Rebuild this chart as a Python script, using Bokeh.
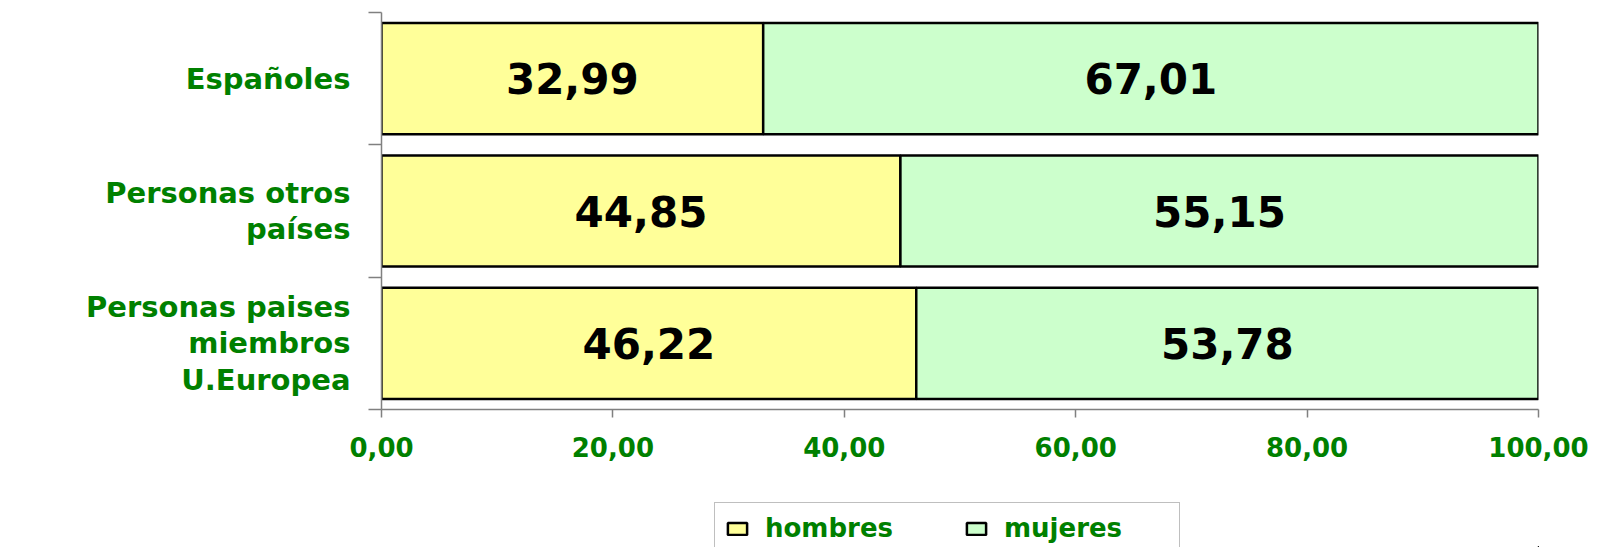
from bokeh.plotting import figure
from bokeh.layouts import column
from bokeh.models import Range1d, FixedTicker, Legend, LegendItem, ColumnDataSource
from bokeh.core.properties import value
from bokeh.embed import file_html
from bokeh.resources import INLINE

# ---- data (bottom to top) ----
categories = ["Personas paises\nmiembros\nU.Europea", "Personas otros\npaíses", "Españoles"]
hombres = [46.22, 44.85, 32.99]
mujeres = [53.78, 55.15, 67.01]
series_names = ["hombres", "mujeres"]
x_ticks = [0, 20, 40, 60, 80, 100]
x_tick_labels = ["0,00", "20,00", "40,00", "60,00", "80,00", "100,00"]

GREEN_TXT = "#008000"
YELLOW = "#FFFF99"
MINT = "#CCFFCC"
AXIS = "#808080"
FONT = "DejaVu Sans"

ypos = [i + 0.5 for i in range(len(categories))]
bounds = [float(i) for i in range(len(categories) + 1)]

src = ColumnDataSource(dict(
    y=ypos,
    h=hombres,
    m=mujeres,
    m_left=hombres,
    m_right=[a + b for a, b in zip(hombres, mujeres)],
    h_mid=[a / 2 for a in hombres],
    m_mid=[a + b / 2 for a, b in zip(hombres, mujeres)],
    h_lab=[f"{v:.2f}".replace(".", ",") for v in hombres],
    m_lab=[f"{v:.2f}".replace(".", ",") for v in mujeres],
))

p = figure(width=1599, height=489, frame_width=1157, frame_height=397,
           output_backend="svg", toolbar_location=None,
           x_range=Range1d(0, 100), y_range=Range1d(0, len(categories)),
           min_border_left=381, min_border_right=61, min_border_top=12, min_border_bottom=80)
p.xgrid.visible = False
p.ygrid.visible = False
p.outline_line_color = None
p.background_fill_color = "white"
p.border_fill_color = "white"

bar_style = dict(height=0.84, line_color="black", line_width=2.5)
r1 = p.hbar(y="y", left=0, right="h", source=src, fill_color=YELLOW, **bar_style)
r2 = p.hbar(y="y", left="m_left", right="m_right", source=src, fill_color=MINT, **bar_style)

for xcol, tcol in (("h_mid", "h_lab"), ("m_mid", "m_lab")):
    p.text(x=xcol, y="y", text=tcol, source=src, text_font=value(FONT),
           text_font_style="bold", text_font_size="42px", text_color="black",
           text_align="center", text_baseline="middle")

# y axis
ya = p.yaxis[0]
ya.ticker = FixedTicker(ticks=ypos, minor_ticks=bounds)
ya.major_label_overrides = {y: c for y, c in zip(ypos, categories)}
ya.major_tick_out = 0
ya.major_tick_in = 0
ya.minor_tick_out = 13
ya.minor_tick_in = 0
ya.minor_tick_line_color = AXIS
ya.minor_tick_line_width = 1.5
ya.axis_line_color = AXIS
ya.axis_line_width = 1.5
ya.major_label_standoff = 18
ya.major_label_text_font = FONT
ya.major_label_text_font_style = "bold"
ya.major_label_text_font_size = "29px"
ya.major_label_text_color = GREEN_TXT
ya.major_label_text_line_height = 1.08

# x axis
xa = p.xaxis[0]
xa.ticker = FixedTicker(ticks=x_ticks, minor_ticks=[])
xa.major_label_overrides = {t: l for t, l in zip(x_ticks, x_tick_labels)}
xa.major_tick_out = 8
xa.major_tick_in = 0
xa.major_tick_line_color = AXIS
xa.major_tick_line_width = 1.5
xa.axis_line_color = AXIS
xa.axis_line_width = 1.5
xa.major_label_standoff = 19
xa.major_label_text_font = FONT
xa.major_label_text_font_style = "bold"
xa.major_label_text_font_size = "26px"
xa.major_label_text_color = GREEN_TXT

# legend strip below the chart (its bars lie far outside its visible ranges)
p2 = figure(width=1599, height=58, output_backend="svg", toolbar_location=None,
            x_range=Range1d(-1000, -900), y_range=Range1d(50, 51),
            x_axis_location=None, y_axis_location=None, min_border=0)
p2.xgrid.visible = False
p2.ygrid.visible = False
p2.outline_line_color = None
g1 = p2.hbar(y="y", left=0, right="h", source=src, fill_color=YELLOW, **bar_style)
g2 = p2.hbar(y="y", left="m_left", right="m_right", source=src, fill_color=MINT, **bar_style)

legend = Legend(items=[LegendItem(label=series_names[0], renderers=[g1]),
                       LegendItem(label=series_names[1], renderers=[g2])],
                orientation="horizontal", location=(333, -7))
legend.border_line_color = AXIS
legend.border_line_width = 1.5
legend.label_text_font = FONT
legend.label_text_font_style = "bold"
legend.label_text_font_size = "26px"
legend.label_text_color = GREEN_TXT
legend.label_height = 30
legend.glyph_width = 24
legend.glyph_height = 15
legend.label_standoff = 16
legend.label_width = 165
legend.spacing = 34
legend.padding = 10
legend.margin = 0
p2.add_layout(legend, "center")

layout = column(p, p2, spacing=0)
open("out.html", "w").write(file_html(layout, INLINE))
